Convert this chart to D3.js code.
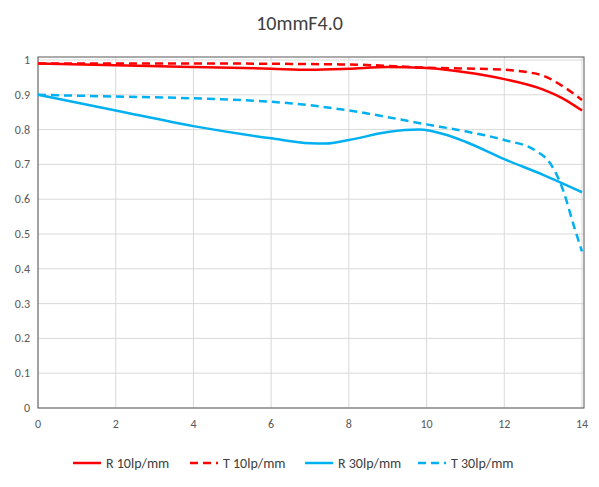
<!DOCTYPE html><html><head><script src="https://d3js.org/d3.v7.min.js"></script>
<style>body{margin:0;background:#fff}</style></head><body><script>
const title="10mmF4.0";
const xTicks=[0,2,4,6,8,10,12,14];
const yTicks=[0,0.1,0.2,0.3,0.4,0.5,0.6,0.7,0.8,0.9,1];
const names=["R 10lp/mm","T 10lp/mm","R 30lp/mm","T 30lp/mm"];
const r10=[[0,0.99],[2,0.985],[4,0.98],[6,0.975],[7,0.972],[8,0.975],[9,0.98],[10,0.977],[11,0.965],[12,0.945],[13,0.915],[13.5,0.89],[14,0.855]];
const t10=[[0,0.99],[4,0.99],[8,0.987],[10,0.978],[12,0.972],[12.6,0.965],[13,0.955],[13.5,0.925],[14,0.885]];
const r30=[[0,0.9],[2,0.855],[4,0.81],[6,0.775],[7,0.761],[7.4,0.76],[8,0.77],[9,0.793],[9.8,0.8],[10.5,0.785],[11,0.765],[12,0.715],[13,0.67],[14,0.62]];
const t30=[[0,0.9],[2,0.895],[4,0.89],[6,0.88],[7,0.87],[8,0.855],[10,0.815],[11,0.795],[12,0.77],[12.8,0.74],[13.2,0.7],[13.5,0.63],[13.8,0.52],[14,0.45]];
const series=[[r10,"#ff0000",false],[t10,"#ff0000",true],[r30,"#00b0f0",false],[t30,"#00b0f0",true]];
const W=599,H=487;
const svg=d3.select("body").append("svg").attr("width",W).attr("height",H).style("font-family","Calibri,Carlito,'Liberation Sans',sans-serif");
const x=d3.scaleLinear().domain([0,14]).range([38,582]);
const y=d3.scaleLinear().domain([0,1]).range([408,60]);
svg.append("text").attr("x",W/2).attr("y",30).attr("text-anchor","middle").attr("font-size",20).attr("fill","#404040").text(title);
const g=svg.append("g");
g.selectAll(".hg").data(yTicks).join("line").attr("x1",38).attr("x2",584).attr("y1",d=>y(d)).attr("y2",d=>y(d)).attr("stroke","#d9d9d9");
g.selectAll(".vg").data(xTicks).join("line").attr("y1",57).attr("y2",408).attr("x1",d=>x(d)).attr("x2",d=>x(d)).attr("stroke","#d9d9d9");
g.append("rect").attr("x",38).attr("y",57).attr("width",546).attr("height",351).attr("fill","none").attr("stroke","#595959");
svg.selectAll(".yl").data(yTicks).join("text").attr("x",30).attr("y",d=>y(d)+4).attr("text-anchor","end").attr("font-size",12).attr("fill","#595959").text(d=>d3.format("")(+d.toFixed(1)));
svg.selectAll(".xl").data(xTicks).join("text").attr("x",d=>x(d)).attr("y",428).attr("text-anchor","middle").attr("font-size",12).attr("fill","#595959").text(d=>d);
const line=d3.line().x(d=>x(d[0])).y(d=>y(d[1])).curve(d3.curveMonotoneX);
series.forEach(([d,c,dash])=>svg.append("path").attr("d",line(d)).attr("fill","none").attr("stroke",c).attr("stroke-width",2.5).attr("stroke-dasharray",dash?"8,5":null));
const lx=[73,190,305,418];
series.forEach(([d,c,dash],i)=>{
 svg.append("line").attr("x1",lx[i]).attr("x2",lx[i]+28).attr("y1",463).attr("y2",463).attr("stroke",c).attr("stroke-width",2.5).attr("stroke-dasharray",dash?"8,5":null);
 svg.append("text").attr("x",lx[i]+33).attr("y",468).attr("font-size",14).attr("fill","#404040").text(names[i]);
});
</script></body></html>
